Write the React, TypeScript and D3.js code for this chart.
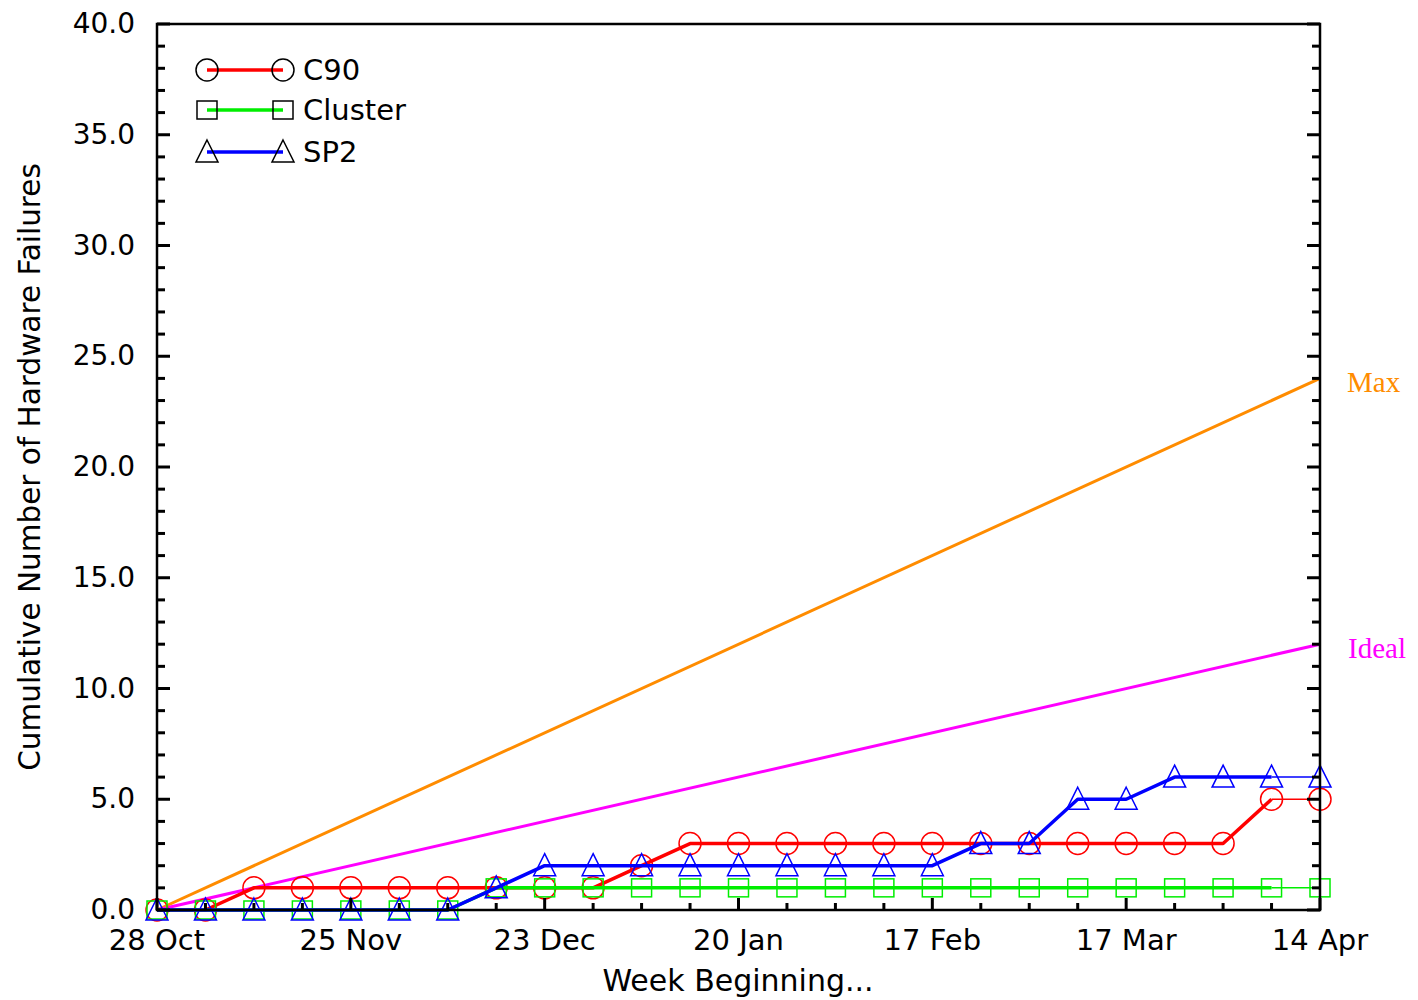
import { useEffect, useRef } from 'react';
import * as d3 from 'd3';

const WEEKS = [
  '28 Oct', '4 Nov', '11 Nov', '18 Nov', '25 Nov', '2 Dec', '9 Dec', '16 Dec', '23 Dec',
  '30 Dec', '6 Jan', '13 Jan', '20 Jan', '27 Jan', '3 Feb', '10 Feb', '17 Feb', '24 Feb',
  '3 Mar', '10 Mar', '17 Mar', '24 Mar', '31 Mar', '7 Apr', '14 Apr',
];
const WEEK_TICKS = ['28 Oct', '25 Nov', '23 Dec', '20 Jan', '17 Feb', '17 Mar', '14 Apr'];

const C90 = [0, 0, 1, 1, 1, 1, 1, 1, 1, 1, 2, 3, 3, 3, 3, 3, 3, 3, 3, 3, 3, 3, 3, 5, 5];
const CLUSTER = [0, 0, 0, 0, 0, 0, 0, 1, 1, 1, 1, 1, 1, 1, 1, 1, 1, 1, 1, 1, 1, 1, 1, 1, 1];
const SP2 = [0, 0, 0, 0, 0, 0, 0, 1, 2, 2, 2, 2, 2, 2, 2, 2, 2, 3, 3, 5, 5, 6, 6, 6, 6];

const REF_WEEKS = ['28 Oct', '14 Apr'];
const MAX_LINE = [0, 24];
const IDEAL_LINE = [0, 12];

const Y_TICKS = [0, 5, 10, 15, 20, 25, 30, 35, 40];

type Marker = 'circle' | 'square' | 'triangle';

const SERIES: { name: string; values: number[]; color: string; marker: Marker }[] = [
  { name: 'C90', values: C90, color: '#ff0000', marker: 'circle' },
  { name: 'Cluster', values: CLUSTER, color: '#00ee00', marker: 'square' },
  { name: 'SP2', values: SP2, color: '#0000ff', marker: 'triangle' },
];

const FONT = '"DejaVu Sans", sans-serif';
const SERIF = '"Liberation Serif", "DejaVu Serif", serif';

function drawMarker(
  g: d3.Selection<SVGGElement, unknown, null, undefined>,
  kind: Marker,
  x: number,
  y: number,
  color: string,
) {
  if (kind === 'circle') {
    g.append('circle').attr('cx', x).attr('cy', y).attr('r', 11)
      .attr('fill', 'none').attr('stroke', color).attr('stroke-width', 1.5);
  } else if (kind === 'square') {
    g.append('rect').attr('x', x - 10).attr('y', y - 9).attr('width', 20).attr('height', 18)
      .attr('fill', 'none').attr('stroke', color).attr('stroke-width', 1.5);
  } else {
    g.append('path').attr('d', `M${x},${y - 12}L${x + 11},${y + 10}L${x - 11},${y + 10}Z`)
      .attr('fill', 'none').attr('stroke', color).attr('stroke-width', 1.5);
  }
}

export default function App() {
  const svgRef = useRef<SVGSVGElement>(null);
  const width = 1418;
  const height = 1000;

  useEffect(() => {
    if (!svgRef.current) return;
    const svg = d3.select(svgRef.current);
    svg.selectAll('*').remove();

    const left = 157, right = 1320, top = 24, bottom = 910;

    const x = d3.scalePoint<string>().domain(WEEKS).range([left, right]);
    const y = d3.scaleLinear().domain([0, 40]).range([bottom, top]);

    const g = svg.append('g');

    // reference lines
    const refLine = d3.line<number>()
      .x((_, i) => x(REF_WEEKS[i]) as number)
      .y((d) => y(d));
    g.append('path').attr('d', refLine(MAX_LINE)).attr('fill', 'none')
      .attr('stroke', '#ff8c00').attr('stroke-width', 3);
    g.append('path').attr('d', refLine(IDEAL_LINE)).attr('fill', 'none')
      .attr('stroke', '#ff00ff').attr('stroke-width', 3);

    g.append('text').attr('x', right + 27).attr('y', y(24) + 14)
      .style('font-family', SERIF).style('font-size', '29px')
      .attr('fill', '#ff8c00').text('Max');
    g.append('text').attr('x', right + 28).attr('y', y(12) + 14)
      .style('font-family', SERIF).style('font-size', '29px')
      .attr('fill', '#ff00ff').text('Ideal');

    // series
    SERIES.forEach((s) => {
      const pts = s.values.map((v, i) => [x(WEEKS[i]) as number, y(v)] as [number, number]);
      const line = d3.line();
      const n = pts.length;
      g.append('path').attr('d', line(pts.slice(0, n - 1))).attr('fill', 'none')
        .attr('stroke', s.color).attr('stroke-width', 3.5).attr('stroke-linejoin', 'round');
      g.append('path').attr('d', line(pts.slice(n - 2))).attr('fill', 'none')
        .attr('stroke', s.color).attr('stroke-width', 1.5);
      const mg = g.append('g');
      pts.forEach(([px, py]) => drawMarker(mg, s.marker, px, py, s.color));
    });

    // frame
    const axis = svg.append('g').attr('stroke', '#000');
    axis.append('rect').attr('x', left).attr('y', top).attr('width', right - left)
      .attr('height', bottom - top).attr('fill', 'none').attr('stroke-width', 2.5);

    // y ticks (left + right, inward)
    d3.range(0, 41).forEach((v) => {
      const major = v % 5 === 0;
      const len = major ? 13 : 8;
      axis.append('line').attr('x1', left).attr('x2', left + len)
        .attr('y1', y(v)).attr('y2', y(v)).attr('stroke-width', 3);
      axis.append('line').attr('x1', right).attr('x2', right - len)
        .attr('y1', y(v)).attr('y2', y(v)).attr('stroke-width', 3);
    });

    // x ticks (bottom, inward)
    WEEKS.forEach((w) => {
      const major = WEEK_TICKS.includes(w);
      const len = major ? 12 : 7;
      const px = x(w) as number;
      axis.append('line').attr('x1', px).attr('x2', px)
        .attr('y1', bottom).attr('y2', bottom - len).attr('stroke-width', 3);
    });

    // tick labels
    svg.append('g').selectAll('text').data(Y_TICKS).join('text')
      .attr('x', left - 22).attr('y', (d) => y(d) + 9)
      .attr('text-anchor', 'end')
      .style('font-family', FONT).style('font-size', '28px')
      .text((d) => d.toFixed(1));

    svg.append('g').selectAll('text').data(WEEK_TICKS).join('text')
      .attr('x', (d) => x(d) as number).attr('y', 950)
      .attr('text-anchor', 'middle')
      .style('font-family', FONT).style('font-size', '29px')
      .text((d) => d);

    svg.append('text').attr('x', 738).attr('y', 991).attr('text-anchor', 'middle')
      .style('font-family', FONT).style('font-size', '30px').text('Week Beginning...');

    svg.append('text').attr('transform', `translate(40,467) rotate(-90)`)
      .attr('text-anchor', 'middle')
      .style('font-family', FONT).style('font-size', '29.5px')
      .text('Cumulative Number of Hardware Failures');

    // legend
    const lg = svg.append('g');
    SERIES.forEach((s, i) => {
      const ly = [70, 110, 152][i];
      lg.append('line').attr('x1', 207).attr('x2', 283).attr('y1', ly).attr('y2', ly)
        .attr('stroke', s.color).attr('stroke-width', 3.5);
      const mg = lg.append('g');
      drawMarker(mg, s.marker, 207, ly, '#000');
      drawMarker(mg, s.marker, 283, ly, '#000');
      lg.append('text').attr('x', 303).attr('y', ly + 10)
        .style('font-family', FONT).style('font-size', '29px').text(s.name);
    });
  }, []);

  return (
    <svg
      ref={svgRef}
      width={width}
      height={height}
      style={{ position: 'absolute', left: 0, top: 0, background: '#fff' }}
    />
  );
}
